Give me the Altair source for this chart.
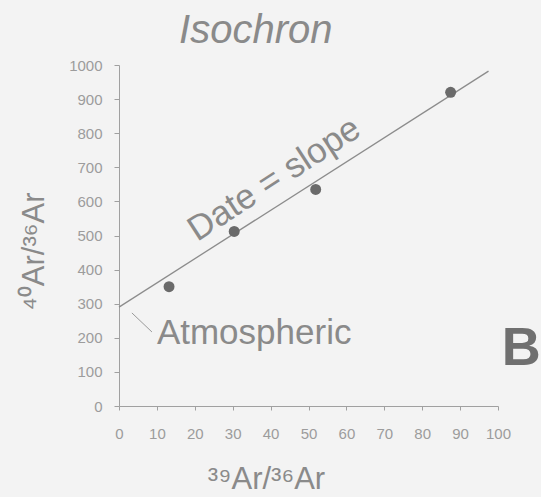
import altair as alt
import pandas as pd

# Measured data points (39Ar/36Ar, 40Ar/36Ar)
x_vals = [13.2, 30.4, 51.9, 87.5]
y_vals = [350, 512, 635, 920]

# Isochron fit line end points
fit_x = [0, 97.5]
fit_y = [290, 982]

# Annotations
ann_text = ["Date = slope", "Atmospheric"]
ann_x = [40.9, 10.0]
ann_y = [666, 182]

leader_x = [3.4]
leader_y = [273]
leader_x2 = [8.7]
leader_y2 = [217]

panel_label = ["B"]
panel_x = [101.0]
panel_y = [120]

title_text = ["Isochron"]
title_x = [36.1]
title_y = [1064]

x_ticks = list(range(0, 101, 10))
y_ticks = list(range(0, 1001, 100))

GRAY = "#8a8a8a"
FONT = "Liberation Sans"

pts = pd.DataFrame({"x": x_vals, "y": y_vals})
fit = pd.DataFrame({"x": fit_x, "y": fit_y})
leader = pd.DataFrame({"x": leader_x, "y": leader_y, "x2": leader_x2, "y2": leader_y2})
date_df = pd.DataFrame({"x": ann_x[:1], "y": ann_y[:1], "t": ann_text[:1]})
atm_df = pd.DataFrame({"x": ann_x[1:], "y": ann_y[1:], "t": ann_text[1:]})
b_df = pd.DataFrame({"x": panel_x, "y": panel_y, "t": panel_label})
t_df = pd.DataFrame({"x": title_x, "y": title_y, "t": title_text})

xs = alt.Scale(domain=[0, 100], nice=False, zero=False)
ys = alt.Scale(domain=[0, 1000], nice=False, zero=False)

xaxis = alt.Axis(
    values=x_ticks, title="³⁹Ar/³⁶Ar", grid=False, format="d",
    tickSize=4, labelPadding=16, labelFontSize=15, labelFont=FONT, labelColor="#9c9c9c",
    domainColor="#a0a0a0", tickColor="#a0a0a0",
    titleFont=FONT, titleFontSize=31, titleFontWeight="normal", titleColor=GRAY,
    titleX=147, titleY=82, titleAlign="center", titleBaseline="alphabetic",
    labelFlush=False,
)
yaxis = alt.Axis(
    values=y_ticks, title="⁴⁰Ar/³⁶Ar", grid=False, format="d",
    tickSize=5, labelPadding=12, labelFontSize=15, labelFont=FONT, labelColor="#9c9c9c",
    domainColor="#a0a0a0", tickColor="#a0a0a0",
    titleFont=FONT, titleFontSize=31, titleFontWeight="normal", titleColor=GRAY,
    titleAngle=270, titleX=-76, titleY=186, titleAlign="center", titleBaseline="alphabetic",
    labelFlush=False,
)

X = alt.X("x:Q", scale=xs, axis=xaxis)
Y = alt.Y("y:Q", scale=ys, axis=yaxis)

line = alt.Chart(fit).mark_line(color="#8c8c8c", strokeWidth=1.3).encode(x=X, y=Y)
points = alt.Chart(pts).mark_circle(size=120, color="#6a6a6a", opacity=1).encode(x=X, y=Y)
lead = alt.Chart(leader).mark_rule(color="#9a9a9a", strokeWidth=1).encode(x=X, y=Y, x2="x2:Q", y2="y2:Q")
date_txt = alt.Chart(date_df).mark_text(
    angle=327, fontSize=35, font=FONT, color=GRAY, align="center", baseline="middle"
).encode(x=X, y=Y, text="t:N")
atm_txt = alt.Chart(atm_df).mark_text(
    fontSize=35, font=FONT, color=GRAY, align="left", baseline="alphabetic"
).encode(x=X, y=Y, text="t:N")
b_txt = alt.Chart(b_df).mark_text(
    fontSize=54, font=FONT, fontWeight="bold", color="#707070", align="left", baseline="alphabetic"
).encode(x=X, y=Y, text="t:N")
title_txt = alt.Chart(t_df).mark_text(
    fontSize=40, font=FONT, fontStyle="italic", color=GRAY, align="center", baseline="alphabetic"
).encode(x=X, y=Y, text="t:N")

chart = alt.layer(line, points, lead, date_txt, atm_txt, b_txt, title_txt).properties(
    width=379, height=341,
    background="#f3f3f3",
    padding={"left": 119, "top": 65, "right": 43, "bottom": 91},
    autosize=alt.AutoSizeParams(type="none"),
).configure_view(strokeWidth=0)

chart.save("out.html", embed_options={"renderer": "svg", "actions": False})
